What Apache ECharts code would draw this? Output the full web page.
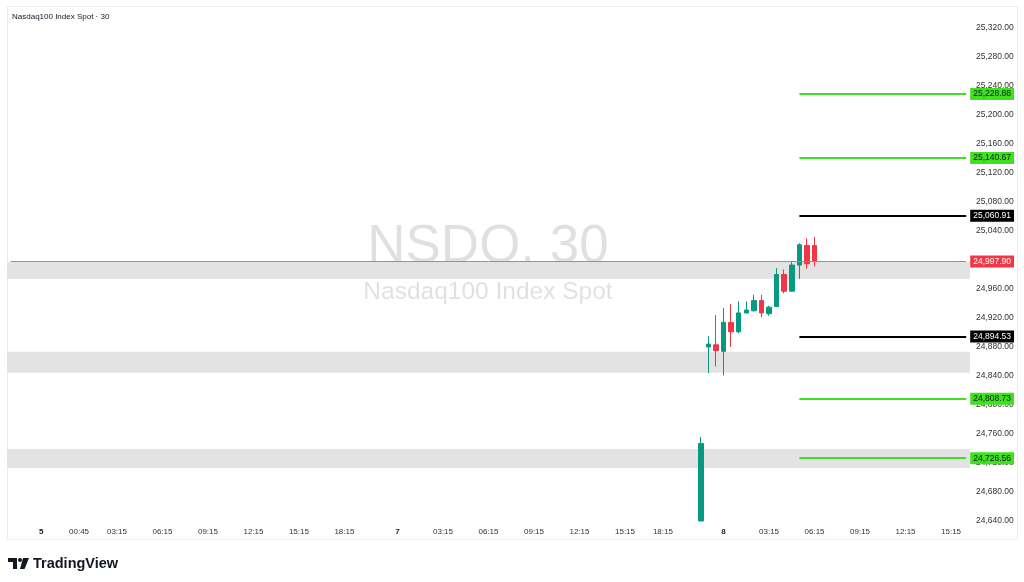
<!DOCTYPE html>
<html>
<head>
<meta charset="utf-8">
<script src="https://cdn.jsdelivr.net/npm/echarts@6/dist/echarts.min.js"></script>
<style>
  html, body { margin: 0; padding: 0; background: #fff; }
  #chart { width: 1024px; height: 582px; }
</style>
</head>
<body>
<div id="chart"></div>
<script>
// 30 min slots on the time axis
const slotCount = 127;

// time axis labels and the slot they sit on
const tickTexts = ['5', '00:45', '03:15', '06:15', '09:15', '12:15', '15:15', '18:15',
  '7', '03:15', '06:15', '09:15', '12:15', '15:15', '18:15',
  '8', '03:15', '06:15', '09:15', '12:15', '15:15'];
const tickSlots = [4, 9, 14, 20, 26, 32, 38, 44, 51, 57, 63, 69, 75, 81, 86, 94, 100, 106, 112, 118, 124];
const dayTicks = [0, 8, 15];

// candles: [open, close, low, high], first one at slot candleStart
// (the first bar opens below the visible range, shown cut at the bottom)
const candleStart = 91;
const candles = [
  [24640, 24747, 24640, 24756],
  [24880, 24884, 24844, 24895],
  [24883, 24875, 24853, 24924],
  [24874, 24914, 24841, 24934],
  [24914, 24901, 24880, 24939],
  [24901, 24927, 24899, 24943],
  [24927, 24931, 24926, 24943],
  [24930, 24944, 24929, 24952],
  [24944, 24927, 24921, 24952],
  [24926, 24935, 24923, 24937],
  [24936, 24980, 24935, 24989],
  [24980, 24957, 24954, 24987],
  [24957, 24993, 24956, 24998],
  [24993, 25021, 24974, 25023],
  [25020, 24995, 24988, 25030],
  [25020, 24997.9, 24991, 25032]
];

// horizontal levels
const levelStart = 104;
const greenLevels = [25228.88, 25140.67, 24808.73, 24726.56];
const blackLevels = [25060.91, 24894.53];
const lastPrice = 24997.90;

// grey zones [top, bottom]
const zones = [[24997.5, 24974], [24873.5, 24844.6], [24739.3, 24713.1]];

// price axis
const priceMin = 24640;
const priceMax = 25320;
const priceStep = 40;

const FONT = 'Liberation Sans';
const UP = '#089981';
const DOWN = '#f23645';
const LIME = '#3fe01d';

function fmt(v) {
  return v.toLocaleString('en-US', { minimumFractionDigits: 2, maximumFractionDigits: 2 });
}

const slots = [];
for (let i = 0; i < slotCount; i++) slots.push('s' + i);

const candleData = slots.map(function (s, i) {
  const k = i - candleStart;
  return (k >= 0 && k < candles.length) ? candles[k] : '-';
});

function levelLine(p, from, lineColor, width, boxColor, textColor) {
  return [
    {
      coord: [from, p],
      lineStyle: { color: lineColor, width: width, type: 'solid' },
      label: {
        show: true, position: 'end', distance: 4,
        formatter: fmt(p),
        backgroundColor: boxColor, color: textColor,
        padding: [2, 3, 1, 3], fontSize: 8.5, fontFamily: FONT
      }
    },
    { coord: [slotCount - 1, p] }
  ];
}

const markLines = [];
markLines.push(levelLine(lastPrice, 0, '#f06a74', 1, DOWN, '#ffffff'));
greenLevels.forEach(function (p) { markLines.push(levelLine(p, levelStart, LIME, 2, LIME, '#131722')); });
blackLevels.forEach(function (p) { markLines.push(levelLine(p, levelStart, '#000000', 2, '#000000', '#ffffff')); });

const chart = echarts.init(document.getElementById('chart'));
chart.setOption({
  backgroundColor: '#ffffff',
  animation: false,
  grid: { left: 7, right: 54, top: 28, bottom: 61 },
  xAxis: {
    type: 'category',
    data: slots,
    boundaryGap: true,
    axisLine: { show: false },
    axisTick: { show: false },
    splitLine: { show: false },
    axisLabel: {
      interval: 0,
      margin: 7,
      color: '#333333',
      fontSize: 8,
      fontFamily: FONT,
      formatter: function (v, i) {
        const k = tickSlots.indexOf(i);
        if (k < 0) return '';
        const t = tickTexts[k];
        return dayTicks.indexOf(k) >= 0 ? '{d|' + t + '}' : t;
      },
      rich: { d: { fontWeight: 'bold', fontSize: 8, fontFamily: FONT, color: '#222' } }
    }
  },
  yAxis: {
    type: 'value',
    position: 'right',
    min: priceMin,
    max: priceMax,
    interval: priceStep,
    axisLine: { show: false },
    axisTick: { show: false },
    splitLine: { show: false },
    axisLabel: {
      margin: 6,
      color: '#333333',
      fontSize: 8.5,
      fontFamily: FONT,
      formatter: fmt
    }
  },
  graphic: [
    {
      type: 'rect', z: -10, silent: true,
      shape: { x: 7.5, y: 6.5, width: 1010, height: 533 },
      style: { fill: 'none', stroke: '#ececec', lineWidth: 1 }
    },
    {
      type: 'text', left: 12, top: 13, silent: true,
      style: { text: 'Nasdaq100 Index Spot · 30', fill: '#131722', fontSize: 8, fontFamily: FONT }
    },
    {
      type: 'text', x: 488, y: 247, z: -5, silent: true,
      style: {
        text: 'NSDQ, 30', fill: 'rgba(0,0,0,0.12)', fontSize: 53, fontFamily: FONT,
        align: 'center', verticalAlign: 'middle'
      }
    },
    {
      type: 'text', x: 488, y: 292, z: -5, silent: true,
      style: {
        text: 'Nasdaq100 Index Spot', fill: 'rgba(0,0,0,0.12)', fontSize: 24.5, fontFamily: FONT,
        align: 'center', verticalAlign: 'middle'
      }
    },
    // TradingView logo
    {
      type: 'group', left: 8, top: 556, silent: true,
      children: [
        { type: 'rect', shape: { x: 0, y: 0, width: 9, height: 4 }, style: { fill: '#131722' } },
        { type: 'rect', shape: { x: 5, y: 0, width: 4, height: 11 }, style: { fill: '#131722' } },
        { type: 'circle', shape: { cx: 12, cy: 2, r: 2 }, style: { fill: '#131722' } },
        { type: 'polygon', shape: { points: [[15, 0], [21, 0], [16.5, 11], [12, 11]] }, style: { fill: '#131722' } },
        {
          type: 'text', x: 25, y: 5.5,
          style: {
            text: 'TradingView', fill: '#131722', fontSize: 14.5, fontWeight: 'bold',
            fontFamily: FONT, verticalAlign: 'middle'
          }
        }
      ]
    }
  ],
  series: [
    {
      name: 'zones',
      type: 'line',
      data: [],
      z: 1,
      silent: true,
      markArea: {
        silent: true,
        itemStyle: { color: '#e3e3e3', borderWidth: 0 },
        data: zones.map(function (z) { return [{ yAxis: z[0] }, { yAxis: z[1] }]; })
      }
    },
    {
      name: 'NSDQ',
      type: 'candlestick',
      data: candleData,
      z: 3,
      barWidth: 5,
      itemStyle: {
        color: UP, color0: DOWN,
        borderColor: UP, borderColor0: DOWN,
        borderWidth: 1
      },
      markLine: {
        silent: true,
        symbol: ['none', 'none'],
        data: markLines
      }
    }
  ]
});
</script>
</body>
</html>
